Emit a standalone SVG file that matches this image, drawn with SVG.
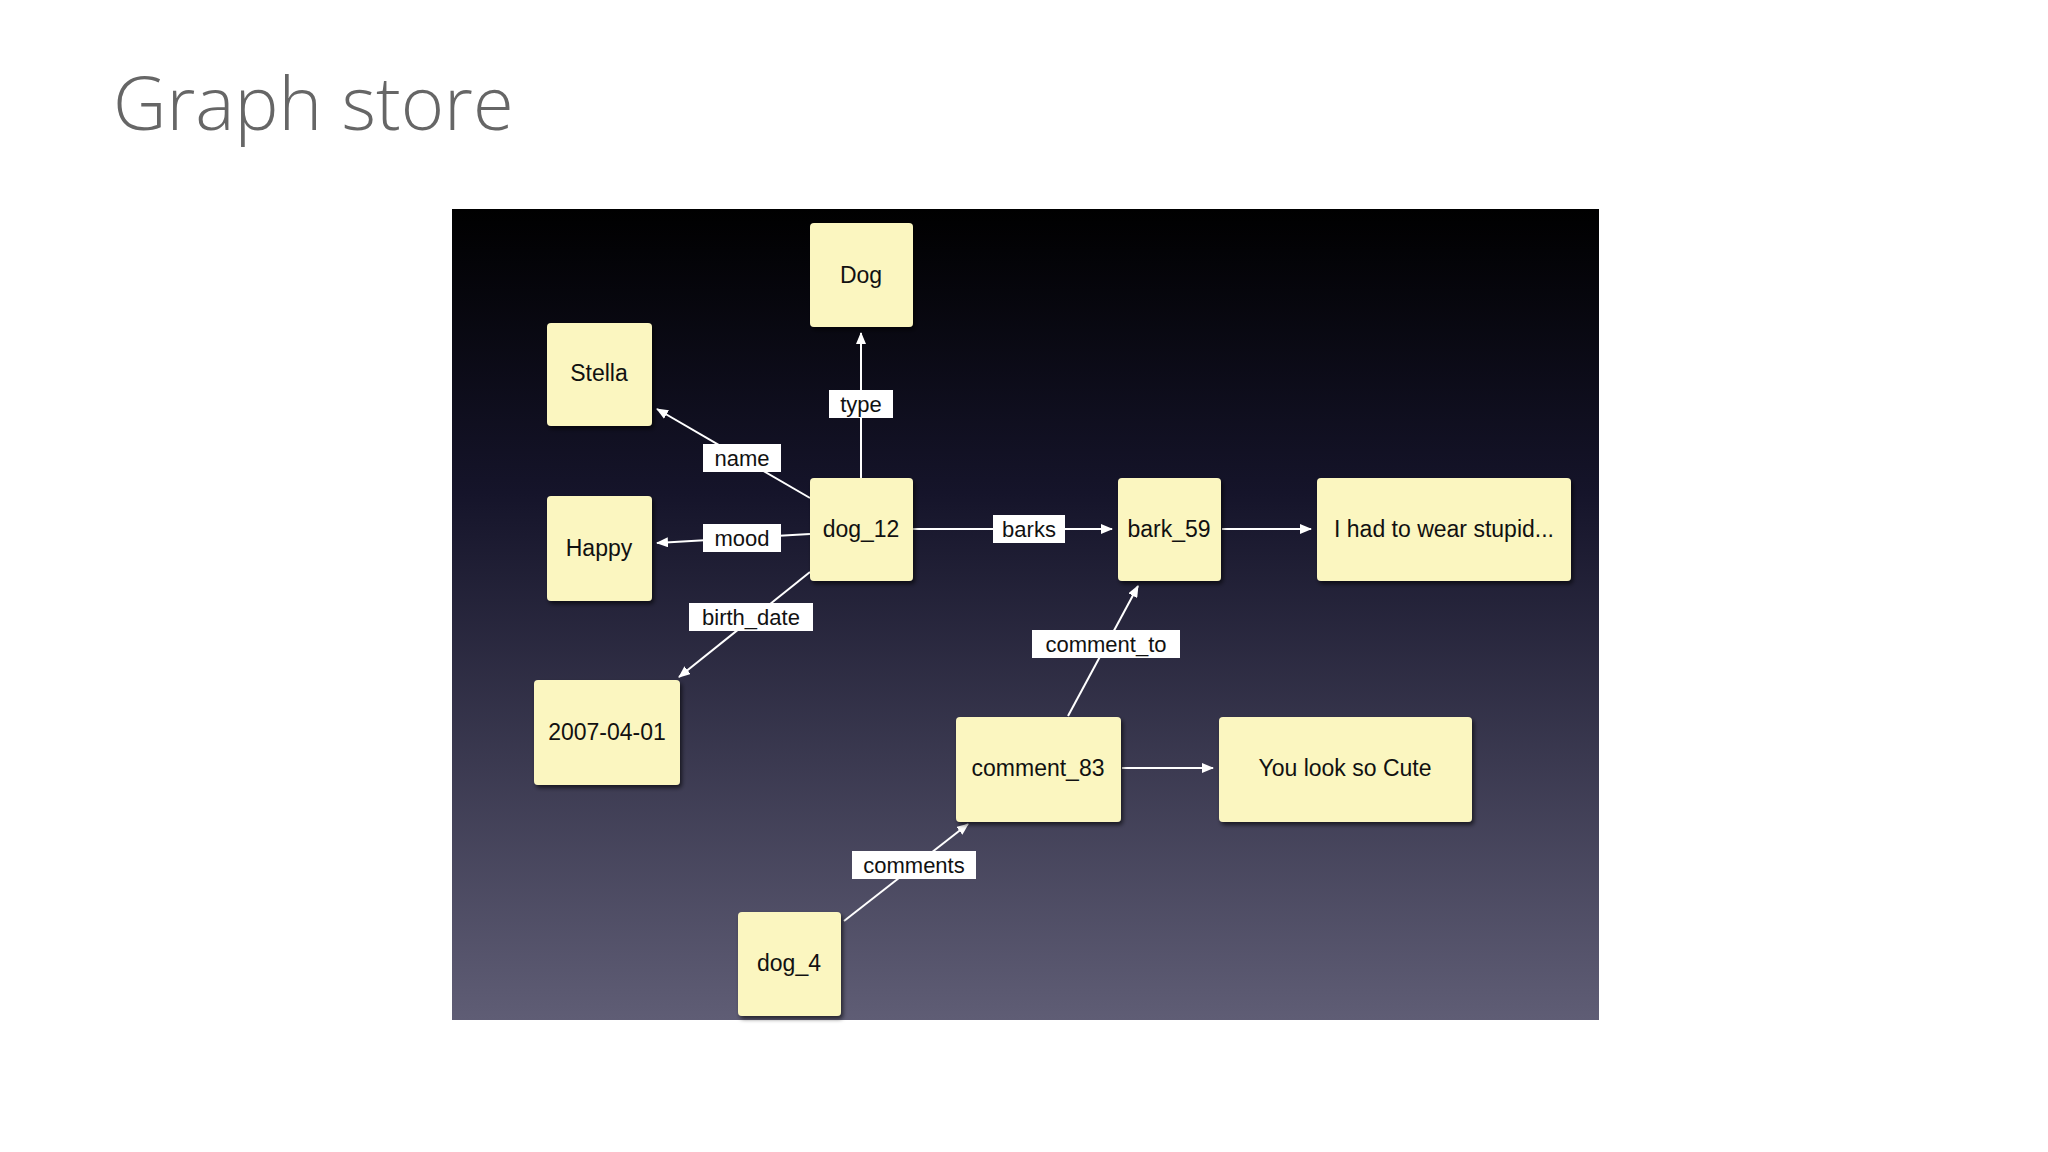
<svg xmlns="http://www.w3.org/2000/svg" width="2048" height="1152" viewBox="0 0 2048 1152">
<defs>
<linearGradient id="bg" x1="0" y1="0" x2="0" y2="1">
<stop offset="0" stop-color="#000000"/><stop offset="0.35" stop-color="#15142a"/><stop offset="1" stop-color="#5f5d75"/>
</linearGradient>
<marker id="ah" markerWidth="12" markerHeight="10" refX="11" refY="5" orient="auto" markerUnits="userSpaceOnUse">
<path d="M0,0 L12,5 L0,10 z" fill="#fff"/>
</marker>
<filter id="sh" x="-20%" y="-20%" width="150%" height="150%"><feDropShadow dx="2" dy="3" stdDeviation="2" flood-color="#000" flood-opacity="0.6"/></filter>
</defs>
<style>
.n rect{fill:#fbf6c0;filter:url(#sh)}
.n text{font-family:"Liberation Sans",Arial,sans-serif;font-size:23px;fill:#111;text-anchor:middle;dominant-baseline:central}
.e line{stroke:#fff;stroke-width:2;marker-end:url(#ah)}
.l rect{fill:#fff}
.l text{font-family:"Liberation Sans",Arial,sans-serif;font-size:22px;fill:#111;text-anchor:middle;dominant-baseline:central}
</style>
<rect width="2048" height="1152" fill="#fff"/>
<text x="113" y="130" font-family="'Segoe UI','Open Sans',sans-serif" font-weight="300" font-size="74" fill="#666">Graph store</text>
<rect x="452" y="209" width="1147" height="811" fill="url(#bg)"/>
<g id="connectors">
<g class="e">
<line x1="861" y1="478" x2="861" y2="333"/>
<line x1="810" y1="498" x2="657" y2="409"/>
<line x1="810" y1="534" x2="657" y2="543"/>
<line x1="810" y1="572" x2="679" y2="677"/>
<line x1="913" y1="529" x2="1112" y2="529"/>
<line x1="1222" y1="529" x2="1311" y2="529"/>
<line x1="1068" y1="716" x2="1138" y2="586"/>
<line x1="1122" y1="768" x2="1213" y2="768"/>
<line x1="844" y1="921" x2="968" y2="824"/>
</g>
<g class="l">
<rect x="829" y="390" width="64" height="28"/><text x="861" y="404">type</text>
<rect x="703" y="444" width="78" height="28"/><text x="742" y="458">name</text>
<rect x="703" y="524" width="78" height="28"/><text x="742" y="538">mood</text>
<rect x="993" y="515" width="72" height="28"/><text x="1029" y="529">barks</text>
<rect x="689" y="603" width="124" height="28"/><text x="751" y="617">birth_date</text>
<rect x="1032" y="630" width="148" height="28"/><text x="1106" y="644">comment_to</text>
<rect x="852" y="851" width="124" height="28"/><text x="914" y="865">comments</text>
</g>
</g>
<g id="dog" class="n"><rect x="810" y="223" width="103" height="104" rx="4"/><text x="861" y="275">Dog</text></g>
<g id="stella" class="n"><rect x="547" y="323" width="105" height="103" rx="4"/><text x="599" y="373">Stella</text></g>
<g id="happy" class="n"><rect x="547" y="496" width="105" height="105" rx="4"/><text x="599" y="548">Happy</text></g>
<g id="dog_12" class="n"><rect x="810" y="478" width="103" height="103" rx="4"/><text x="861" y="529">dog_12</text></g>
<g id="bark_59" class="n"><rect x="1118" y="478" width="103" height="103" rx="4"/><text x="1169" y="529">bark_59</text></g>
<g id="stupid" class="n"><rect x="1317" y="478" width="254" height="103" rx="4"/><text x="1444" y="529">I had to wear stupid...</text></g>
<g id="date" class="n"><rect x="534" y="680" width="146" height="105" rx="4"/><text x="607" y="732">2007-04-01</text></g>
<g id="comment_83" class="n"><rect x="956" y="717" width="165" height="105" rx="4"/><text x="1038" y="768">comment_83</text></g>
<g id="cute" class="n"><rect x="1219" y="717" width="253" height="105" rx="4"/><text x="1345" y="768">You look so Cute</text></g>
<g id="dog_4" class="n"><rect x="738" y="912" width="103" height="104" rx="4"/><text x="789" y="963">dog_4</text></g>
</svg>
